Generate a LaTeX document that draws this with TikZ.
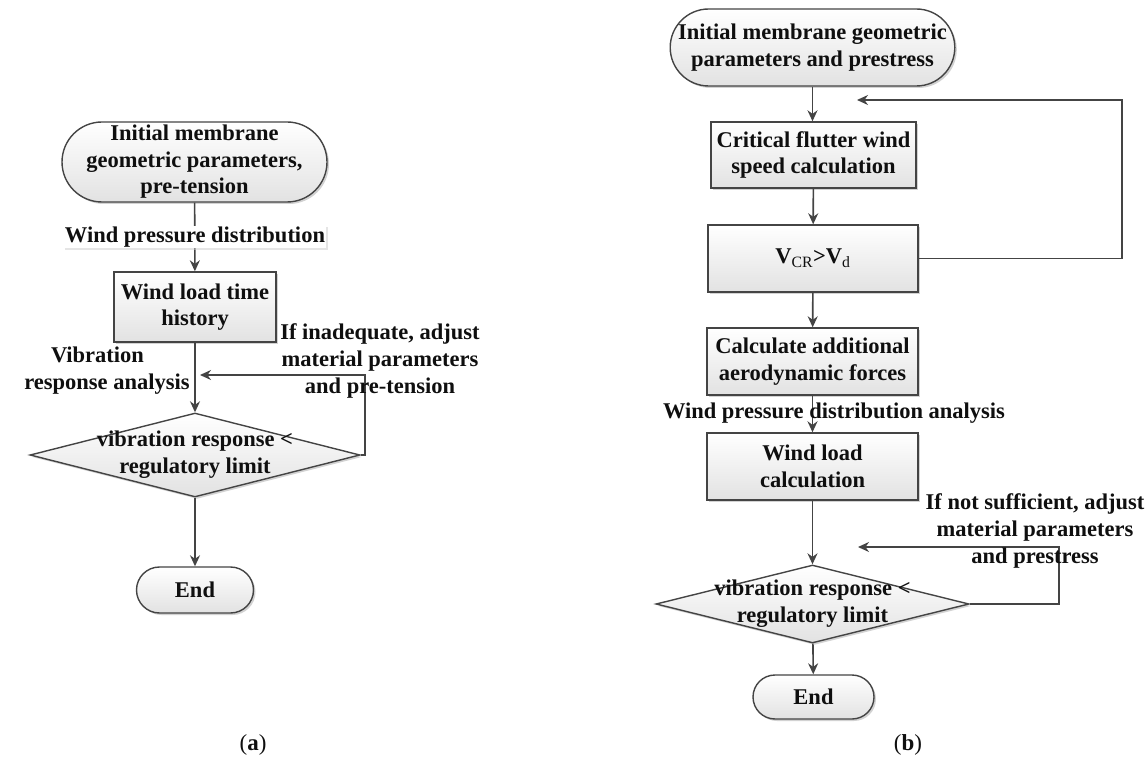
\documentclass[tikz,border=0pt]{standalone}
\usepackage{fontspec}
\setmainfont{Liberation Serif}
\usetikzlibrary{shapes.geometric,shapes.misc,arrows.meta,shadows}

\begin{document}
\begin{tikzpicture}
    [x=1pt, y=-1pt,
    %Option for nice arrows
    >={Stealth[length=11pt,width=10pt]}, %
    flow/.style={draw=linegray,line width=1.6pt,->},
    box/.style={draw=linegray,line width=1.4pt,top color=white,bottom color=boxgray,
        drop shadow={shadow xshift=2pt,shadow yshift=-2pt,fill=gray!70,opacity=0.5},
        inner sep=0pt,align=center,text=textblack,font=\fontsize{22.5}{26.5}\selectfont\bfseries},
    term/.style={box,rounded rectangle},
    proc/.style={box,rectangle},
    dec/.style={box,diamond},
    lbl/.style={inner sep=1pt,align=center,text=textblack,font=\fontsize{22.5}{27}\selectfont\bfseries}]

    % Colors

    \definecolor{linegray}{RGB}{68,68,68};
    \definecolor{boxgray}{RGB}{226,226,226};
    \definecolor{textblack}{RGB}{15,15,15};

    % Frame
    \useasboundingbox (0,0) rectangle (1146,759);

    % (a)
    \node[term, minimum width=265pt, minimum height=80pt] (starta) at (194.5,162)
        {Initial membrane\\geometric parameters,\\pre-tension};
    \node[proc, minimum width=162pt, minimum height=70pt] (loada) at (195,307)
        {Wind load time\\history};
    \node[dec, minimum width=330pt, minimum height=84pt] (checka) at (195,455) {};
    \node[lbl, inner sep=0pt] (checkatext) at (checka) {vibration response <\\regulatory limit};
    \node[term, minimum width=117pt, minimum height=46pt] (enda) at (195,590) {End};
    \coordinate (backa) at (200,375);

    \draw[flow] (starta) -- (loada);
    \node[lbl, fill=white, drop shadow={shadow xshift=1.5pt,shadow yshift=-1.5pt,fill=gray!40,opacity=0.5}]
        (pressa) at (195,237) {Wind pressure distribution};
    \draw[flow] (loada) -- (checka);
    \draw[flow] (checka.east) -- ++(4,0) |- (backa);
    \draw[flow] (checka) -- (enda);

    \node[lbl] (vibra) at (107,371) {Vibration\hspace*{19pt}\\response analysis};
    \node[lbl] (adjusta) at (380,361) {If inadequate, adjust\\material parameters\\and pre-tension};
    \node[font=\fontsize{23}{26}\selectfont, text=textblack] (capa) at (253,745) {(\textbf{a})};

    % (b)
    \node[term, minimum width=283pt, minimum height=77pt] (startb) at (812.5,47.5)
        {Initial membrane geometric\\parameters and prestress};
    \node[proc, minimum width=205pt, minimum height=66pt] (flutb) at (813.5,155)
        {Critical flutter wind\\speed calculation};
    \node[proc, minimum width=210pt, minimum height=67pt] (vcrb) at (813,258.5)
        {V\textsubscript{\mdseries CR}>V\textsubscript{\mdseries d}};
    \node[proc, minimum width=211pt, minimum height=67pt] (aerob) at (812.5,361.5)
        {Calculate additional\\aerodynamic forces};
    \node[proc, minimum width=211pt, minimum height=67pt] (loadb) at (812.5,466.5)
        {Wind load\\calculation};
    \node[dec, minimum width=313pt, minimum height=78pt] (checkb) at (812.5,604) {};
    \node[lbl, inner sep=0pt] (checkbtext) at (checkb) {vibration response <\\regulatory limit};
    \node[term, minimum width=121pt, minimum height=44pt] (endb) at (813.5,697) {End};
    \coordinate (backb1) at (857,100);
    \coordinate (backb2) at (858,547);

    \draw[flow] (startb.south) -- (startb.south |- flutb.north);
    \draw[flow] (flutb) -- (vcrb);
    \draw[flow] (vcrb) -- (aerob);
    \draw[flow] (vcrb.east) -- ++(203,0) |- (backb1);
    \draw[flow] (aerob) -- (loadb);
    \draw[flow] (loadb) -- (checkb);
    \draw[flow] (checkb.east) -- ++(89,0) |- (backb2);
    \draw[flow] (checkb) -- (endb);

    \node[lbl] (pressb) at (834,413) {Wind pressure distribution analysis};
    \node[lbl] (adjustb) at (1035,531) {If not sufficient, adjust\\material parameters\\and prestress};
    \node[font=\fontsize{23}{26}\selectfont, text=textblack] (capb) at (908,745) {(\textbf{b})};

\end{tikzpicture}
\end{document}
